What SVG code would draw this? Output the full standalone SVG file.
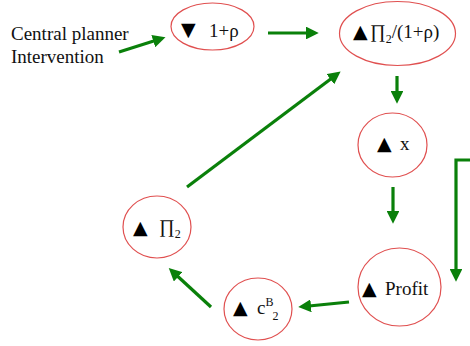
<svg xmlns="http://www.w3.org/2000/svg" width="470" height="346" viewBox="0 0 470 346">
<defs>
<marker id="ah" markerWidth="4" markerHeight="4" refX="2.2" refY="2" orient="auto" markerUnits="strokeWidth">
<path d="M0,0 L4,2 L0,4 Z" fill="#0a800a"/>
</marker>
</defs>
<style>
.n{fill:#fff;stroke:#e05050;stroke-width:1.2}
.t{font-family:"Liberation Serif",serif;font-size:19px;fill:#111}
.s{font-size:12px}
.tri{font-family:"DejaVu Sans",sans-serif;font-size:19px;fill:#000}
.c{stroke:#0a800a;stroke-width:3.2;fill:none;marker-end:url(#ah)}
</style>
<rect width="470" height="346" fill="#fff"/>
<g id="label">
<text class="t" x="11" y="40">Central planner</text>
<text class="t" x="11" y="63">Intervention</text>
</g>
<g id="n1">
<ellipse class="n" cx="212.5" cy="26.5" rx="41.5" ry="23.5"/>
<text class="tri" x="181" y="36">▼</text>
<text class="t" x="209" y="37">1+ρ</text>
</g>
<g id="n2">
<ellipse class="n" cx="397.5" cy="33.5" rx="58" ry="32"/>
<text class="tri" x="353" y="38">▲</text>
<text class="t" x="370" y="38">∏<tspan class="s" dy="5">2</tspan><tspan dy="-5">/(1+ρ)</tspan></text>
</g>
<g id="n3">
<ellipse class="n" cx="392.5" cy="145" rx="34.5" ry="32"/>
<text class="tri" x="377" y="150">▲</text>
<text class="t" x="400" y="150">x</text>
</g>
<g id="n4">
<ellipse class="n" cx="399.5" cy="287" rx="41.5" ry="39"/>
<text class="tri" x="362" y="295">▲</text>
<text class="t" x="385" y="295">Profit</text>
</g>
<g id="n5">
<ellipse class="n" cx="258" cy="309" rx="34" ry="31"/>
<text class="tri" x="233" y="314">▲</text>
<text class="t" x="257" y="314">c<tspan class="s" dy="-8">B</tspan><tspan class="s" dx="-1" dy="14">2</tspan></text>
</g>
<g id="n6">
<ellipse class="n" cx="157" cy="227" rx="34" ry="31"/>
<text class="tri" x="133" y="234">▲</text>
<text class="t" x="159" y="233">∏<tspan class="s" dy="5">2</tspan></text>
</g>
<g id="connectors">
<path class="c" d="M119,52 L160,39"/>
<path class="c" d="M268,33 L313,33"/>
<path class="c" d="M397,76 L397,98"/>
<path class="c" d="M187,187 L336,75"/>
<path class="c" d="M393,187 L393,218"/>
<path class="c" d="M470,160 L456,160 L456,276"/>
<path class="c" d="M349,302 L304,306.5"/>
<path class="c" d="M211,307 L173,272"/>
</g>
</svg>
